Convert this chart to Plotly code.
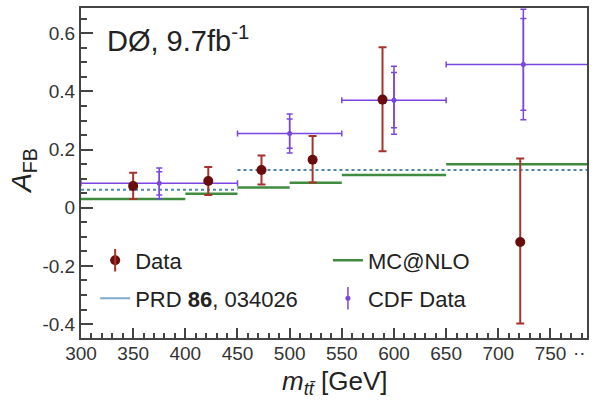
import plotly.graph_objects as go

# ---------------- data ----------------
# D0 data
d0_x = [350, 422, 473, 522, 589, 721]
d0_y = [0.075, 0.092, 0.130, 0.165, 0.372, -0.118]
d0_err_up = [0.045, 0.048, 0.050, 0.082, 0.180, 0.287]
d0_err_dn = [0.045, 0.048, 0.050, 0.078, 0.178, 0.280]

# CDF data
cdf_x = [375, 500, 600, 724]
cdf_lo = [300, 450, 550, 650]
cdf_hi = [450, 550, 650, 800]
cdf_y = [0.084, 0.255, 0.370, 0.493]
cdf_tot = [0.053, 0.067, 0.117, 0.190]
cdf_stat = [0.040, 0.050, 0.095, 0.158]

# MC@NLO prediction (bins)
mc_lo = [300, 400, 450, 500, 550, 650]
mc_hi = [400, 450, 500, 550, 650, 800]
mc_y = [0.030, 0.048, 0.070, 0.086, 0.113, 0.150]

# PRD 86, 034026 prediction (bins)
prd_lo = [300, 450]
prd_hi = [450, 800]
prd_y = [0.062, 0.130]

# axis ticks
x_ticks = [300, 350, 400, 450, 500, 550, 600, 650, 700, 750]
y_ticks = [-0.4, -0.2, 0, 0.2, 0.4, 0.6]
y_ticktext = ["-0.4", "-0.2", "0", "0.2", "0.4", "0.6"]

# ---------------- styles ----------------
FONT = "Liberation Sans, Arial, sans-serif"
C_D0_MK = "#6a0c0c"
C_D0_ERR = "#a8332c"
C_CDF = "#7a45e0"
C_MC = "#3f8c3f"
C_PRD = "#4f87b3"


def steps(lo, hi, y):
    xs, ys = [], []
    for a, b, v in zip(lo, hi, y):
        xs += [a, b, None]
        ys += [v, v, None]
    return xs, ys


fig = go.Figure()

mx, my = steps(mc_lo, mc_hi, mc_y)
fig.add_trace(go.Scatter(x=mx, y=my, mode="lines", name="MC@NLO",
                         line=dict(color=C_MC, width=2.5),
                         legend="legend3"))

px_, py_ = steps(prd_lo, prd_hi, prd_y)
fig.add_trace(go.Scatter(x=px_, y=py_, mode="lines", showlegend=False,
                         line=dict(color=C_PRD, width=2, dash="dot")))
fig.add_trace(go.Scatter(x=[None], y=[None], mode="lines",
                         name="PRD <b>86</b>, 034026",
                         line=dict(color="#7fa9c9", width=2),
                         legend="legend2"))

# CDF: total errors with bin-width horizontal bars
fig.add_trace(go.Scatter(
    x=cdf_x, y=cdf_y, mode="markers", name="CDF Data",
    marker=dict(color=C_CDF, size=5),
    error_y=dict(type="data", array=cdf_tot, color=C_CDF, thickness=1.5, width=3),
    error_x=dict(type="data",
                 array=[h - x for h, x in zip(cdf_hi, cdf_x)],
                 arrayminus=[x - l for x, l in zip(cdf_x, cdf_lo)],
                 color=C_CDF, thickness=1.5, width=3),
    legend="legend4"))
# CDF: inner (statistical) error caps
fig.add_trace(go.Scatter(
    x=cdf_x, y=cdf_y, mode="markers", showlegend=False,
    marker=dict(color=C_CDF, size=1, opacity=0),
    error_y=dict(type="data", array=cdf_stat, color=C_CDF, thickness=1.5, width=3)))

# D0 data
fig.add_trace(go.Scatter(
    x=d0_x, y=d0_y, mode="markers", name="Data",
    marker=dict(color=C_D0_MK, size=10),
    error_y=dict(type="data", array=d0_err_up, arrayminus=d0_err_dn,
                 color=C_D0_ERR, thickness=2, width=4),
    legend="legend"))

# legend-only vertical bars drawn behind the legend markers (error-bar look)
fig.add_trace(go.Scatter(x=[None], y=[None], mode="markers", name=" ",
                         marker=dict(symbol="line-ns", size=22,
                                     line=dict(color=C_D0_ERR, width=2)),
                         legend="legend5"))
fig.add_trace(go.Scatter(x=[None], y=[None], mode="markers", name=" ",
                         marker=dict(symbol="line-ns", size=18,
                                     line=dict(color=C_CDF, width=1.5)),
                         legend="legend6"))

axis_common = dict(
    showline=True, mirror=True, linecolor="#444", linewidth=2,
    ticks="inside", tickcolor="#444", tickwidth=1.5,
    tickfont=dict(family=FONT, size=19, color="#333"),
    showgrid=False, zeroline=False,
)

fig.update_xaxes(range=[300, 785], tickvals=x_ticks, ticklen=10,
                 ticklabelstandoff=-3,
                 minor=dict(ticks="inside", ticklen=5, dtick=10, tick0=300,
                            tickcolor="#444", showgrid=False),
                 **axis_common)
fig.update_yaxes(range=[-0.448, 0.687], tickvals=y_ticks, ticktext=y_ticktext,
                 ticklen=12,
                 minor=dict(ticks="inside", ticklen=6, dtick=0.05, tick0=0,
                            tickcolor="#444", showgrid=False),
                 **axis_common)

leg = dict(font=dict(family=FONT, size=22, color="#222"),
           bgcolor="rgba(0,0,0,0)", xanchor="left", yanchor="middle",
           itemwidth=30)

fig.update_layout(
    width=597, height=407,
    margin=dict(l=81, r=10, t=6, b=69),
    paper_bgcolor="white", plot_bgcolor="white",
    showlegend=True,
    legend5=dict(x=0.028, y=0.235, **leg),
    legend6=dict(x=0.488, y=0.12, **leg),
    legend=dict(x=0.028, y=0.235, **leg),
    legend2=dict(x=0.028, y=0.12, **leg),
    legend3=dict(x=0.488, y=0.235, **leg),
    legend4=dict(x=0.488, y=0.12, **leg),
    annotations=[
        dict(text="DØ, 9.7fb<sup>-1</sup>", xref="paper", yref="paper",
             x=0.047, y=0.907, xanchor="left", yanchor="middle",
             showarrow=False, font=dict(family=FONT, size=29, color="#222")),
        dict(text="<i>m</i><sub><i>tt̄</i></sub> [GeV]", xref="paper", yref="paper",
             x=0.5, y=-0.135, xanchor="center", yanchor="middle",
             showarrow=False, font=dict(family=FONT, size=26, color="#222")),
        dict(text="<i>A</i><sub>FB</sub>", xref="paper", yref="paper",
             x=-0.115, y=0.506, xanchor="center", yanchor="middle", textangle=-90,
             showarrow=False, font=dict(family=FONT, size=28, color="#222")),
        dict(text="··", xref="paper", yref="paper",
             x=0.985, y=-0.045, xanchor="center", yanchor="middle",
             showarrow=False, font=dict(family=FONT, size=19, color="#333")),
    ],
)

fig.write_html("out.html")
